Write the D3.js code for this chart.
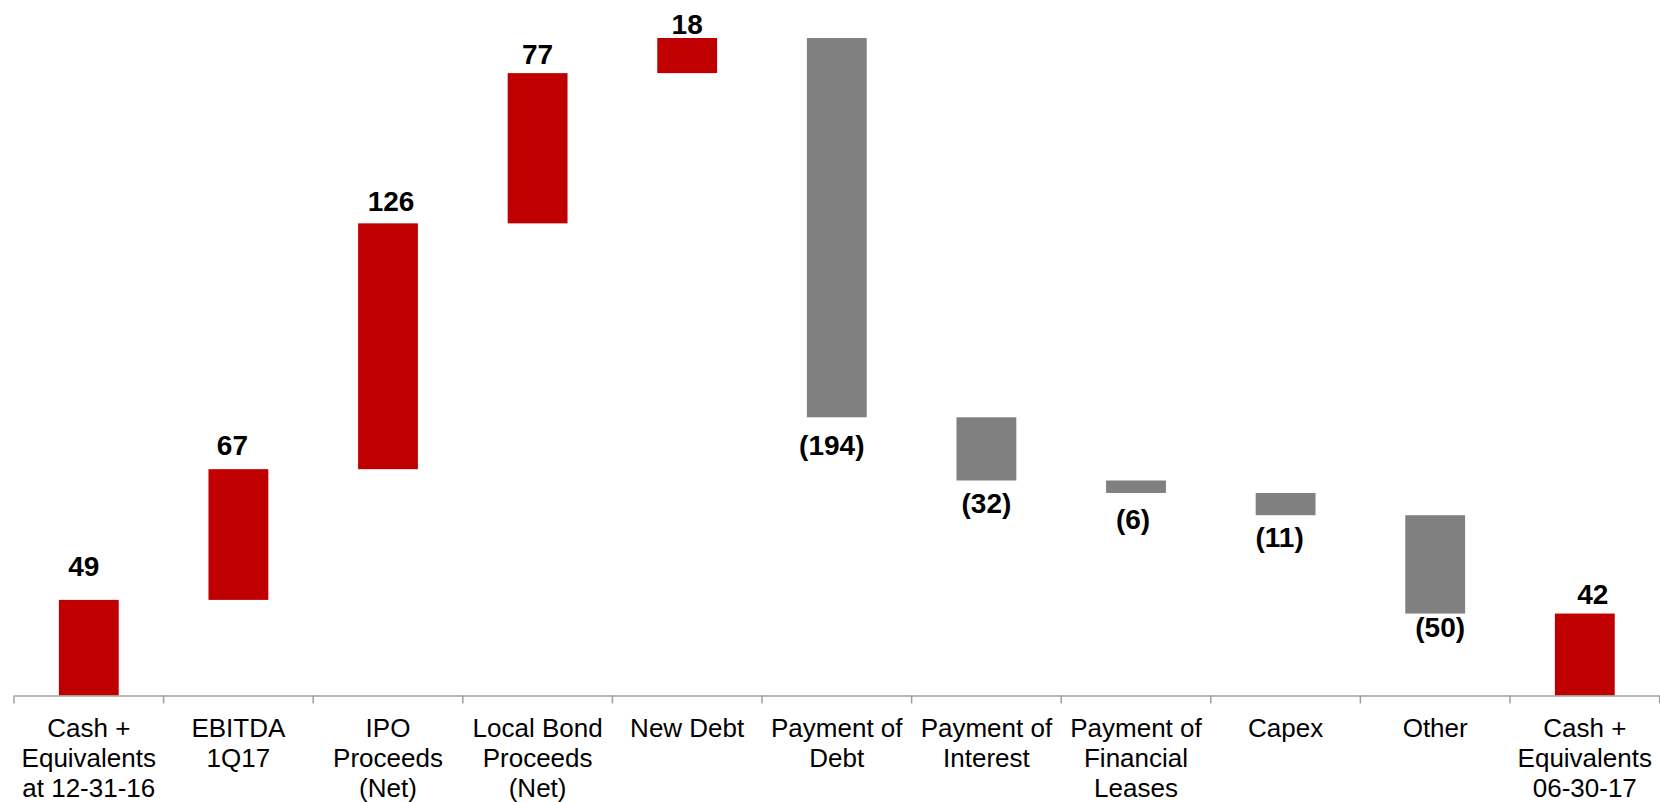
<!DOCTYPE html>
<html>
<head>
<meta charset="utf-8">
<script src="https://cdn.jsdelivr.net/npm/d3@7"></script>
<style>
  html, body { margin: 0; padding: 0; background: #fff; }
  svg { display: block; }
  text { font-family: Arial, "Liberation Sans", Helvetica, sans-serif; }
</style>
</head>
<body>
<svg id="chart" width="1660" height="802"></svg>
<script>
// Cash flow bridge, values in US$ millions
const categories = [
  ["Cash +", "Equivalents", "at 12-31-16"],
  ["EBITDA", "1Q17"],
  ["IPO", "Proceeds", "(Net)"],
  ["Local Bond", "Proceeds", "(Net)"],
  ["New Debt"],
  ["Payment of", "Debt"],
  ["Payment of", "Interest"],
  ["Payment of", "Financial", "Leases"],
  ["Capex"],
  ["Other"],
  ["Cash +", "Equivalents", "06-30-17"]
];
// "total" bars start at zero; "delta" bars float on the running balance
const kinds  = ["total", "delta", "delta", "delta", "delta", "delta", "delta", "delta", "delta", "delta", "total"];
const values = [49, 67, 126, 77, 18, -194.4, -32.4, -6.4, -11.4, -50.4, 42];

// hand-tuned label nudges (dx, dy) relative to the default label spot
const labelDx = [-5, -6, 3, 0, 0, -5, 0, -3, -6, 5, 8];
const labelGap = [24, 14, 12.6, 9.3, 4.4, 37.5, 32.5, 36, 32, 23.7, 10];

const svg = d3.select("#chart");
const axisY = 695.5, topY = 38, left = 14, right = 1659.6;

// running balance per step
let run = 0;
const rows = values.map((v, i) => {
  let y0, y1;
  if (kinds[i] === "total") { y0 = 0; y1 = v; run = v; }
  else { y0 = run; y1 = run + v; run = y1; }
  return { i, v, y0, y1, kind: kinds[i] };
});

const maxVal = d3.max(rows, d => Math.max(d.y0, d.y1));
const x = d3.scaleBand().domain(d3.range(categories.length)).range([left, right]).padding(0);
const y = d3.scaleLinear().domain([0, maxVal]).range([axisY, topY]);

const barW = x.bandwidth() * 0.4;
const red = "#C00000", grey = "#808080";

// bars
svg.append("g").selectAll("rect").data(rows).join("rect")
  .attr("x", d => x(d.i) + (x.bandwidth() - barW) / 2)
  .attr("width", barW)
  .attr("y", d => y(Math.max(d.y0, d.y1)))
  .attr("height", d => Math.abs(y(d.y0) - y(d.y1)))
  .attr("fill", d => d.v >= 0 ? red : grey);

// category axis
const axisG = svg.append("g").attr("transform", `translate(0,${axisY})`)
  .call(d3.axisBottom(x).tickSize(0).tickFormat(""));
axisG.select(".domain").attr("stroke", "#9F9F9F").attr("stroke-width", 1.5);
axisG.selectAll(".tick").remove();

// boundary ticks between categories
const bounds = d3.range(categories.length + 1).map(k => left + k * x.step());
axisG.selectAll("line.bound").data(bounds).join("line")
  .attr("class", "bound")
  .attr("x1", d => d).attr("x2", d => d)
  .attr("y1", 0).attr("y2", 8)
  .attr("stroke", "#9F9F9F").attr("stroke-width", 1.5);

// category labels
const catG = svg.append("g");
categories.forEach((lines, i) => {
  const t = catG.append("text")
    .attr("x", x(i) + x.bandwidth() / 2)
    .attr("y", axisY + 41.5)
    .attr("text-anchor", "middle")
    .attr("font-size", 26)
    .attr("fill", "#000");
  lines.forEach((ln, j) => {
    t.append("tspan")
      .attr("x", x(i) + x.bandwidth() / 2)
      .attr("dy", j === 0 ? 0 : 30)
      .text(ln);
  });
});

// value labels
const fmt = v => v < 0 ? `(${Math.round(-v)})` : `${Math.round(v)}`;
svg.append("g").selectAll("text").data(rows).join("text")
  .attr("x", d => x(d.i) + x.bandwidth() / 2 + labelDx[d.i])
  .attr("y", d => d.v >= 0
    ? y(Math.max(d.y0, d.y1)) - labelGap[d.i]
    : y(Math.min(d.y0, d.y1)) + labelGap[d.i])
  .attr("text-anchor", "middle")
  .attr("font-size", 28)
  .attr("font-weight", "bold")
  .attr("fill", "#000")
  .text(d => fmt(d.v));
</script>
</body>
</html>
